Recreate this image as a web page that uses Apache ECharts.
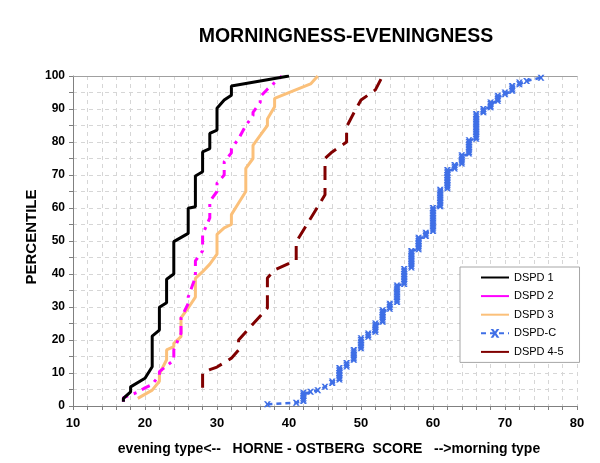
<!DOCTYPE html>
<html>
<head>
<meta charset="utf-8">
<script src="https://cdn.jsdelivr.net/npm/echarts@6/dist/echarts.min.js"></script>
<style>html,body{margin:0;padding:0;background:#fff}#chart{width:600px;height:463px}</style>
</head>
<body>
<div id="chart"></div>
<script>
// ---- data ([score, percentile]) ----
const dspd1 = [[17,1.3],[17,2.3],[18,4.3],[18,5.8],[20,8.4],[21,11.9],[21,21.2],[22,23],[22,29.9],[23,31.3],[23,38.4],[24,40],[24,49.8],[26,52.3],[26,59.9],[27,60.4],[27,69.7],[28,71],[28,77],[29,78],[29,82.6],[30,83.6],[30,90.2],[31,92.7],[32,94.2],[32,97],[40,100]];
const dspd2 = [[17,1.3],[17,2.5],[19,4.2],[20,5.5],[21,6.5],[22,9.4],[22,10.4],[24,13.9],[24,17],[25,22],[25,26.7],[26,31],[26,33],[27,39],[27,44],[28,47],[28,52],[29,57],[29,62],[30,65],[30,67.5],[31,70],[31,74],[32,76.7],[32,78],[33,81],[34,85],[35,88],[35,89],[36,92],[36,93.7],[37,96],[38,98],[39,100]];
const dspd3 = [[19,2.3],[21,4.8],[22,7.5],[22,9.7],[23,14],[23,17],[24,18],[24,19],[25,21],[25,26.7],[26,29.7],[27,33],[27,38.7],[28,40.7],[29,43],[30,46],[30,52],[31,54],[32,55],[32,58],[33,61.5],[34,65],[34,72],[35,75],[35,79],[36,82],[37,85],[37,87],[38,90.7],[38,93.2],[43,97.6],[44,100]];
const dspd45 = [[28,5.5],[28,10],[29,11],[30,11.8],[32,14.5],[33,17],[33,20],[37,29.7],[37,38.8],[38,41.2],[41,44.2],[41,49.7],[44,60.4],[45,64],[45,75],[46,77],[48,80],[48,84.6],[49,88.8],[50,92.7],[52,95.8],[53,100]];
const ctrlScores = [37,41,42,43,44,45,46,47,48,49,50,51,52,53,54,55,56,57,58,59,60,61,62,63,64,65,66,67,68,69,70,71,72,73,75];
const ctrlPct = [
  [0.5],
  [1],
  [1.5,2,2.5,3,3.5,4],
  [4.3],
  [4.8],
  [5.8],
  [7,7.4],
  [8,8.5,9,9.5,10,10.5,11,11.5],
  [12,12.5,13],
  [14,14.5,15,15.5,16,16.5,17],
  [17.5,18,18.5,19,19.5,20,20.5],
  [21,21.5,22],
  [22.5,23,23.5,24,24.5,25],
  [25.5,26,26.5,27,27.5,28,28.5,29],
  [29.5,30,30.5,31],
  [31.5,32,32.5,33,33.5,34,34.5,35,35.5,36,36.5],
  [37,37.5,38,38.5,39,39.5,40,40.5,41,41.5],
  [42,42.5,43,43.5,44,44.5,45,45.5,46,46.5,47],
  [47.5,48,48.5,49,49.5,50,50.5,51],
  [51.5,52,52.5],
  [53,53.5,54,54.5,55,55.5,56,56.5,57,57.5,58,58.5,59,59.5,60],
  [60.5,61,61.5,62,62.5,63,63.5,64,64.5,65,65.5],
  [66,66.5,67,67.5,68,68.5,69,69.5,70,70.5,71,71.5],
  [72,72.5,73],
  [73.5,74,74.5,75,75.5,76],
  [76.5,77,77.5,78,78.5,79,79.5,80,80.5],
  [81,81.5,82,82.5,83,83.5,84,84.5,85,85.5,86,86.5,87,87.5,88,88.5],
  [89,89.5,90],
  [90.5,91,91.5,92],
  [92.5,93,93.5,94],
  [94.5,95],
  [95.5,96,96.5,97],
  [97.5,98],
  [98.5],
  [99.5]
];
const seriesNames = ['DSPD 1','DSPD 2','DSPD 3','DSPD-C','DSPD 4-5'];
const xTicks = [10,20,30,40,50,60,70,80];
const yTicks = [0,10,20,30,40,50,60,70,80,90,100];

const dspdC = [];
ctrlScores.forEach((s, i) => ctrlPct[i].forEach(p => dspdC.push([s, p])));

const FONT = '"Liberation Sans", Arial, sans-serif';
const crossPath = 'path://M0,0 L3,0 L5,3 L7,0 L10,0 L6.5,5 L10,10 L7,10 L5,7 L3,10 L0,10 L3.5,5 Z';

const chart = echarts.init(document.getElementById('chart'), null, {renderer: 'canvas'});
chart.setOption({
  animation: false,
  backgroundColor: '#ffffff',
  graphic: [{
    type: 'text', x: 346, y: 37,
    style: {text: 'MORNINGNESS-EVENINGNESS', font: 'bold 19.5px ' + FONT, fill: '#000', textAlign: 'center', textVerticalAlign: 'middle'}
  }, {
    type: 'text', x: 32, y: 237, rotation: Math.PI / 2,
    style: {text: 'PERCENTILE', font: 'bold 15px ' + FONT, fill: '#000', textAlign: 'center', textVerticalAlign: 'middle'}
  }],
  grid: {left: 73, right: 23, top: 76, bottom: 57},
  legend: {
    orient: 'vertical', left: 460, top: 267,
    padding: [5, 16, 5, 20], itemGap: 7.6, itemWidth: 28, itemHeight: 11,
    backgroundColor: '#fff', borderColor: '#a6a6a6', borderWidth: 1,
    textStyle: {fontFamily: FONT, fontSize: 11, color: '#000'},
    data: [
      {name: 'DSPD 1', itemStyle: {opacity: 0}},
      {name: 'DSPD 2', itemStyle: {opacity: 0}, lineStyle: {type: 'solid'}},
      {name: 'DSPD 3', itemStyle: {opacity: 0}},
      {name: 'DSPD-C'},
      {name: 'DSPD 4-5', itemStyle: {opacity: 0}, lineStyle: {type: 'solid'}}
    ]
  },
  xAxis: [{
    type: 'value', min: 10, max: 80, interval: 2,
    name: 'evening type<--   HORNE - OSTBERG  SCORE   -->morning type',
    nameLocation: 'middle', nameGap: 36,
    nameTextStyle: {fontFamily: FONT, fontWeight: 'bold', fontSize: 14, color: '#000', padding: [0, 0, 0, 8]},
    axisLine: {show: true, lineStyle: {color: '#808080', width: 1}},
    axisTick: {show: true, length: 4, lineStyle: {color: '#808080'}},
    axisLabel: {fontFamily: FONT, fontWeight: 'bold', fontSize: 13, color: '#000', margin: 11,
      formatter: v => (xTicks.indexOf(v) >= 0 ? String(v) : '')},
    splitLine: {show: true, lineStyle: {color: '#d6d6d6', type: [4, 4], width: 1}}
  }, {
    type: 'value', min: 10, max: 80, position: 'top',
    axisLine: {show: true, onZero: false, lineStyle: {color: '#a0a0a0', width: 1}},
    axisTick: {show: false}, axisLabel: {show: false}, splitLine: {show: false}
  }],
  yAxis: {
    type: 'value', min: 0, max: 100, interval: 5,
    axisLine: {show: true, lineStyle: {color: '#808080', width: 1}},
    axisTick: {show: true, length: 4, lineStyle: {color: '#808080'}},
    axisLabel: {fontFamily: FONT, fontWeight: 'bold', fontSize: 12, color: '#000', margin: 8,
      formatter: v => (yTicks.indexOf(v) >= 0 ? String(v) : '')},
    splitLine: {show: true, lineStyle: {color: '#d6d6d6', type: [4, 4], width: 1}}
  },
  series: [
    {name: seriesNames[3], type: 'line', data: dspdC, symbol: crossPath, symbolSize: [7, 6], showAllSymbol: true,
      itemStyle: {color: '#3f6fe6'}, lineStyle: {color: '#3f6fe6', width: 2.5, type: [5, 4]}, z: 2},
    {name: seriesNames[4], type: 'line', data: dspd45, symbol: 'none',
      itemStyle: {color: '#800000'}, lineStyle: {color: '#800000', width: 3, type: [14, 8]}, z: 3},
    {name: seriesNames[2], type: 'line', data: dspd3, symbol: 'none',
      itemStyle: {color: '#fbc07a'}, lineStyle: {color: '#fbc07a', width: 3}, z: 4},
    {name: seriesNames[1], type: 'line', data: dspd2, symbol: 'none',
      itemStyle: {color: '#ff00ff'}, lineStyle: {color: '#ff00ff', width: 3, type: [9, 6, 3, 6]}, z: 5},
    {name: seriesNames[0], type: 'line', data: dspd1, symbol: 'none',
      itemStyle: {color: '#000000'}, lineStyle: {color: '#000000', width: 3}, z: 6}
  ]
});
</script>
</body>
</html>
